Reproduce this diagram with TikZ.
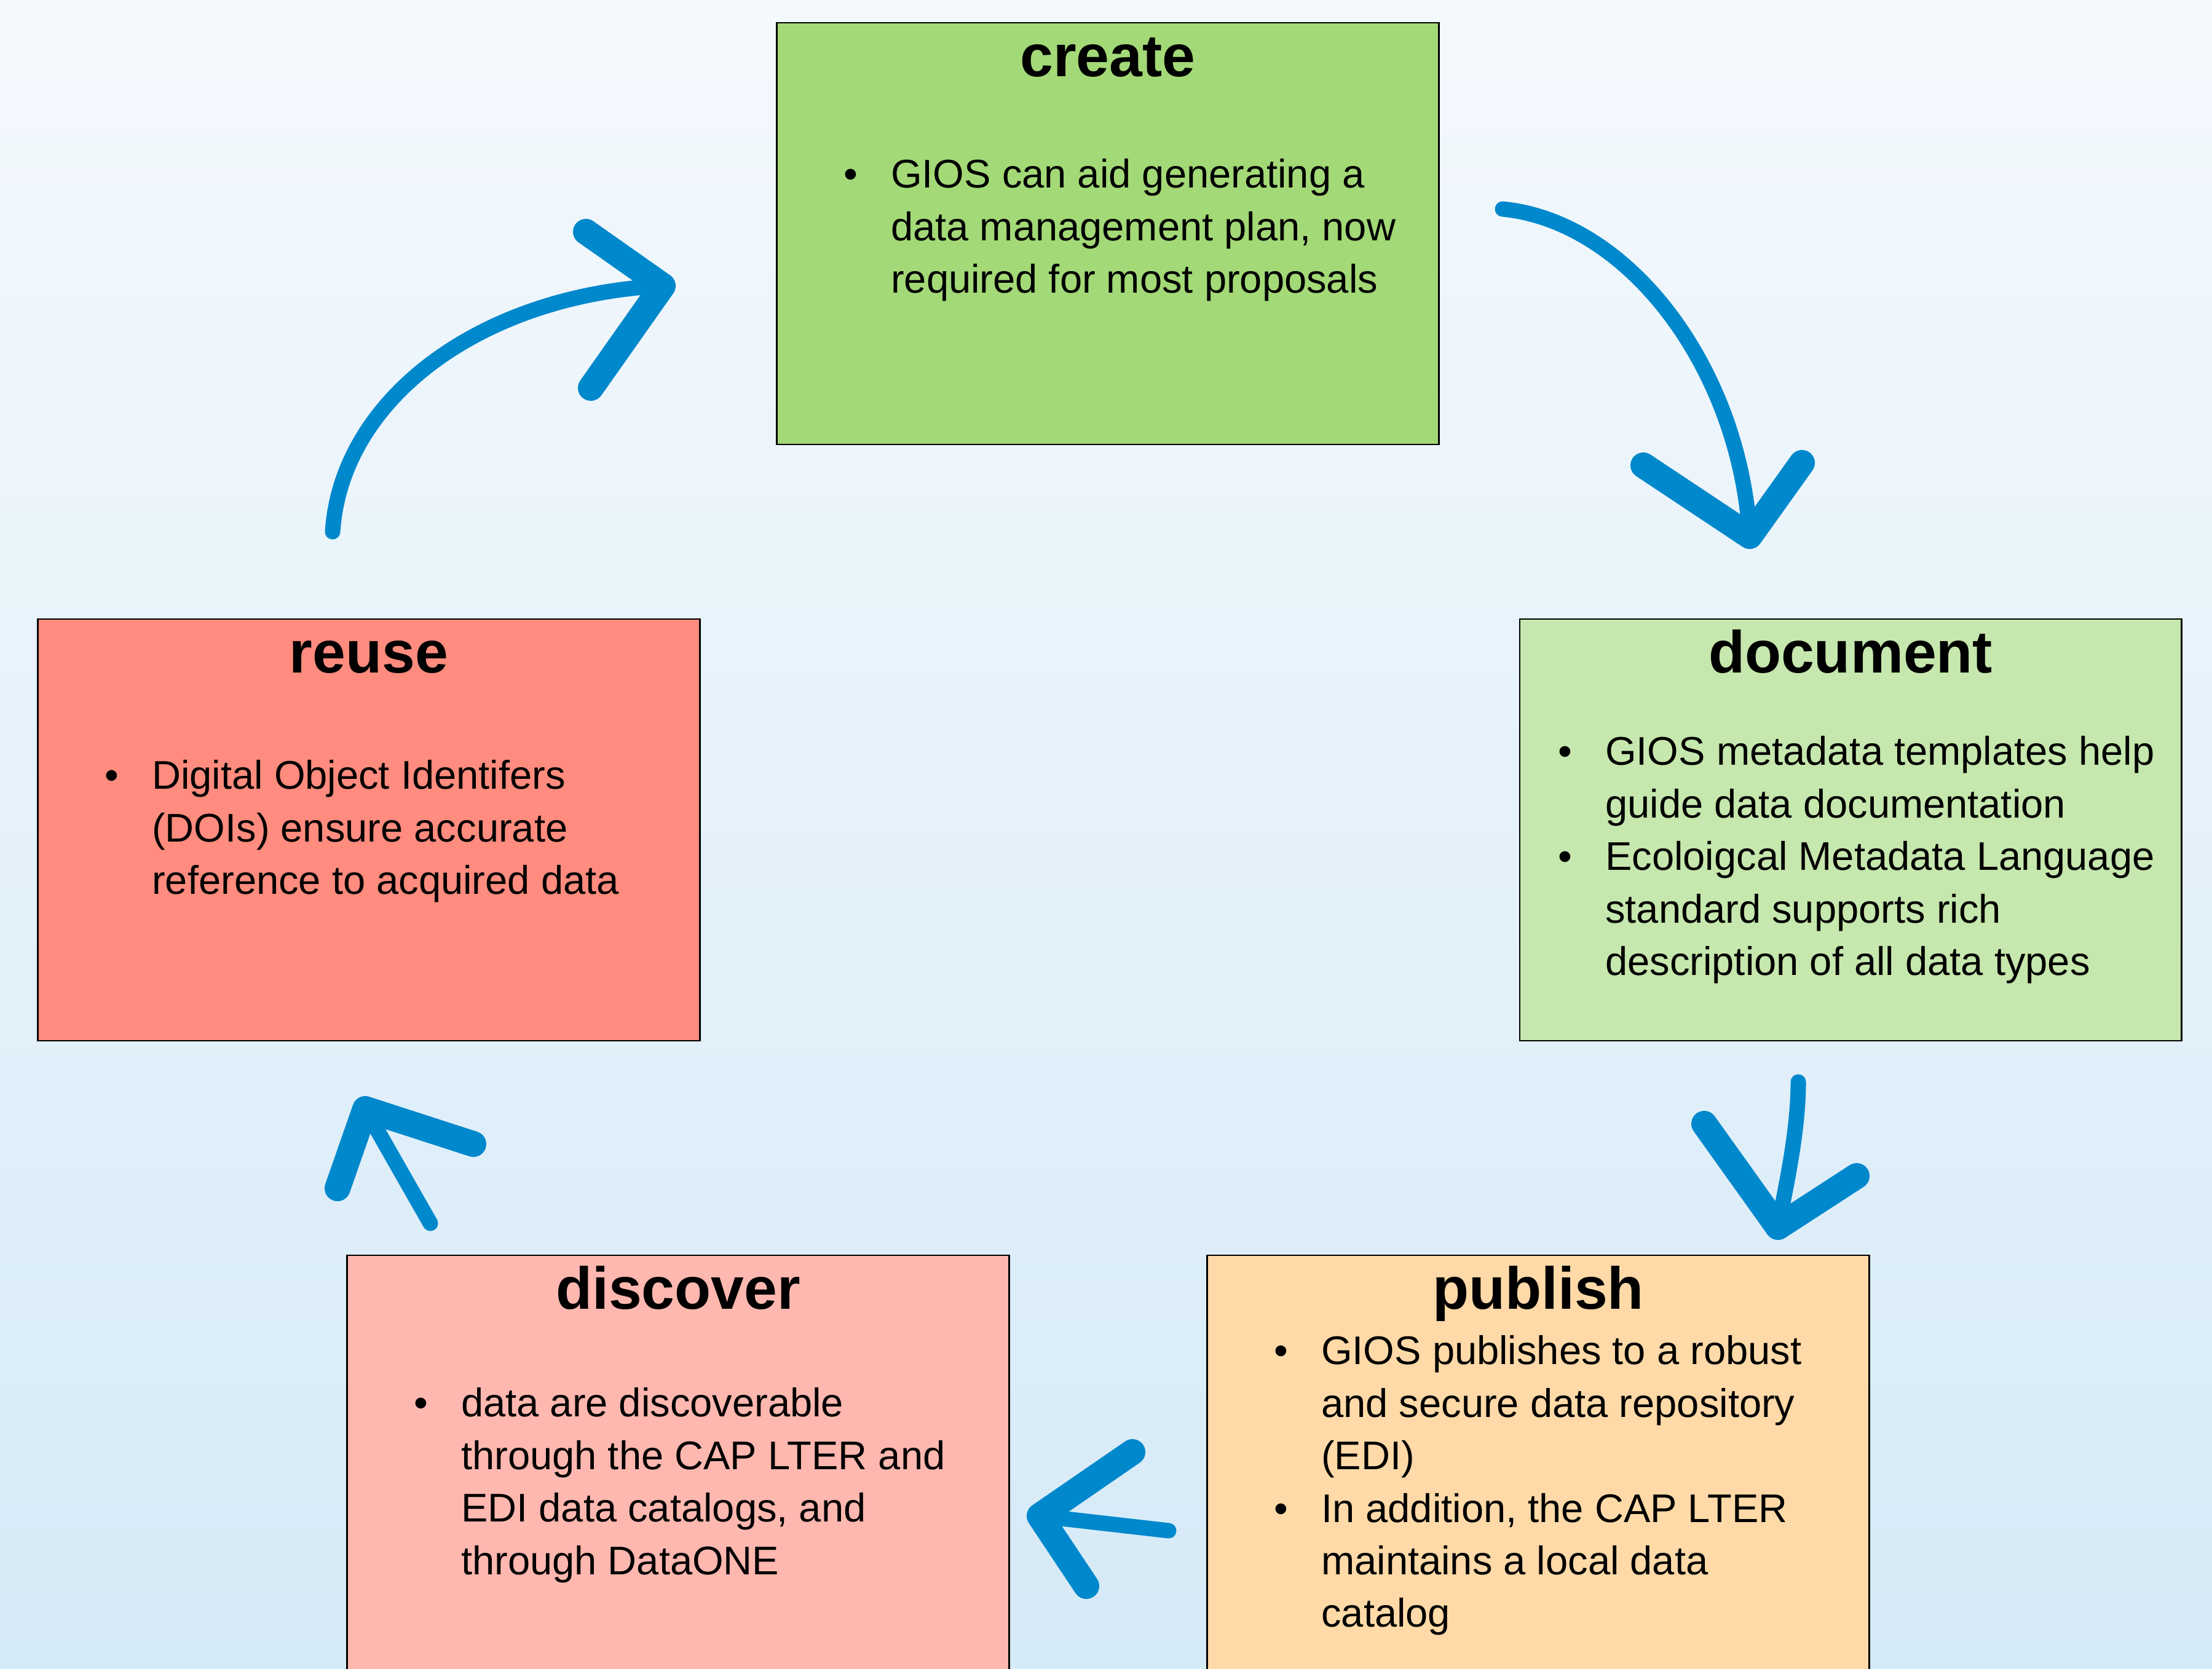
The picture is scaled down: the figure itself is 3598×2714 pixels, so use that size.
\documentclass[tikz,border=0pt]{standalone}
\usepackage{fontspec}
\setmainfont{Liberation Sans}
\usetikzlibrary{positioning}

\definecolor{bgtop}{HTML}{F4F9FD}
\definecolor{bgbot}{HTML}{D5EAF7}
\definecolor{arrowblue}{HTML}{0088CC}
\definecolor{createfill}{HTML}{A3D977}
\definecolor{docfill}{HTML}{C6E7AD}
\definecolor{reusefill}{HTML}{FF8C7E}
\definecolor{discfill}{HTML}{FFB8B0}
\definecolor{pubfill}{HTML}{FFDAA8}

\newcommand{\bodysize}{\fontsize{18.5pt}{24.3pt}\selectfont}
\newcommand{\blist}[1]{\begin{tabular}[t]{@{}p{0.77cm}@{}l@{}}#1\end{tabular}}

\begin{document}
\begin{tikzpicture}[x=0.01cm,y=-0.01cm,
	block/.style={rectangle,draw=black,line width=0.7pt,minimum width=10.76cm,minimum height=6.86cm,inner sep=0pt},
	ttl/.style={anchor=base,inner sep=0pt,font=\bfseries\fontsize{27.5pt}{33pt}\selectfont},
	txt/.style={anchor=base west,inner sep=0pt,font=\bodysize},
	brush/.style={draw=arrowblue,line width=0.25cm,line cap=round},
	barb/.style={draw=arrowblue,line width=0.42cm,line cap=round,line join=round}]
		\useasboundingbox (0,0) rectangle (3598,2714);
		\clip (0,0) rectangle (3598,2714);
		\shade[top color=bgtop,bottom color=bgbot] (0,0) rectangle (3598,2714);

		\node[block,fill=createfill] (create) at (1802,380) {};
		\node[block,fill=docfill] (document) at (3010,1350) {};
		\node[block,fill=reusefill] (reuse) at (600,1350) {};
		\node[block,fill=discfill] (discover) at (1103,2385) {};
		\node[block,fill=pubfill] (publish) at (2502,2385) {};

		\node[ttl] (createT) at ([yshift=-0.89cm]create.north) {create};
		\node[ttl] (documentT) at ([yshift=-0.89cm]document.north) {document};
		\node[ttl] (reuseT) at ([yshift=-0.89cm]reuse.north) {reuse};
		\node[ttl] (discoverT) at ([yshift=-0.89cm]discover.north) {discover};
		\node[ttl] (publishT) at ([yshift=-0.89cm]publish.north) {publish};

		\node[txt] (createB) at ([xshift=1.09cm,yshift=-2.70cm]create.north west) {\blist{
			\textbullet & GIOS can aid generating a\\
			& data management plan, now\\
			& required for most proposals}};
		\node[txt] (documentB) at ([xshift=0.63cm,yshift=-2.39cm]document.north west) {\blist{
			\textbullet & GIOS metadata templates help\\
			& guide data documentation\\
			\textbullet & Ecoloigcal Metadata Language\\
			& standard supports rich\\
			& description of all data types}};
		\node[txt] (reuseB) at ([xshift=1.09cm,yshift=-2.78cm]reuse.north west) {\blist{
			\textbullet & Digital Object Identifers\\
			& (DOIs) ensure accurate\\
			& reference to acquired data}};
		\node[txt] (discoverB) at ([xshift=1.09cm,yshift=-2.64cm]discover.north west) {\blist{
			\textbullet & data are discoverable\\
			& through the CAP LTER and\\
			& EDI data catalogs, and\\
			& through DataONE}};
		\node[txt] (publishB) at ([xshift=1.09cm,yshift=-1.79cm]publish.north west) {\blist{
			\textbullet & GIOS publishes to a robust\\
			& and secure data repository\\
			& (EDI)\\
			\textbullet & In addition, the CAP LTER\\
			& maintains a local data\\
			& catalog}};

		% create -> document
		\coordinate (a1s) at (2444,340);
		\coordinate (a1e) at (2846,872);
		\coordinate (a1l) at (2673,757);
		\coordinate (a1r) at (2931,753);
		\draw[brush] (a1s) .. controls (2650,360) and (2830,600) .. (a1e);
		\draw[barb] (a1l) -- (a1e) -- (a1r);
		% document -> publish
		\coordinate (a3s) at (2925,1760);
		\coordinate (a3e) at (2892,1996);
		\coordinate (a3l) at (2772,1828);
		\coordinate (a3r) at (3020,1913);
		\draw[brush] (a3s) .. controls (2925,1840) and (2905,1930) .. (a3e);
		\draw[barb] (a3l) -- (a3e) -- (a3r);
		% publish -> discover
		\coordinate (a4s) at (1901,2490);
		\coordinate (a4e) at (1691,2466);
		\coordinate (a4u) at (1842,2362);
		\coordinate (a4d) at (1767,2580);
		\draw[brush] (a4s) -- (a4e);
		\draw[barb] (a4u) -- (a4e) -- (a4d);
		% discover -> reuse
		\coordinate (a5s) at (700,1990);
		\coordinate (a5e) at (594,1804);
		\coordinate (a5l) at (549,1933);
		\coordinate (a5r) at (770,1861);
		\draw[brush] (a5s) -- (a5e);
		\draw[barb] (a5l) -- (a5e) -- (a5r);
		% reuse -> create
		\coordinate (a2s) at (541,865);
		\coordinate (a2e) at (1078,465);
		\coordinate (a2u) at (953,377);
		\coordinate (a2d) at (961,631);
		\draw[brush] (a2s) .. controls (555,650) and (780,480) .. (a2e);
		\draw[barb] (a2u) -- (a2e) -- (a2d);
\end{tikzpicture}
\end{document}
